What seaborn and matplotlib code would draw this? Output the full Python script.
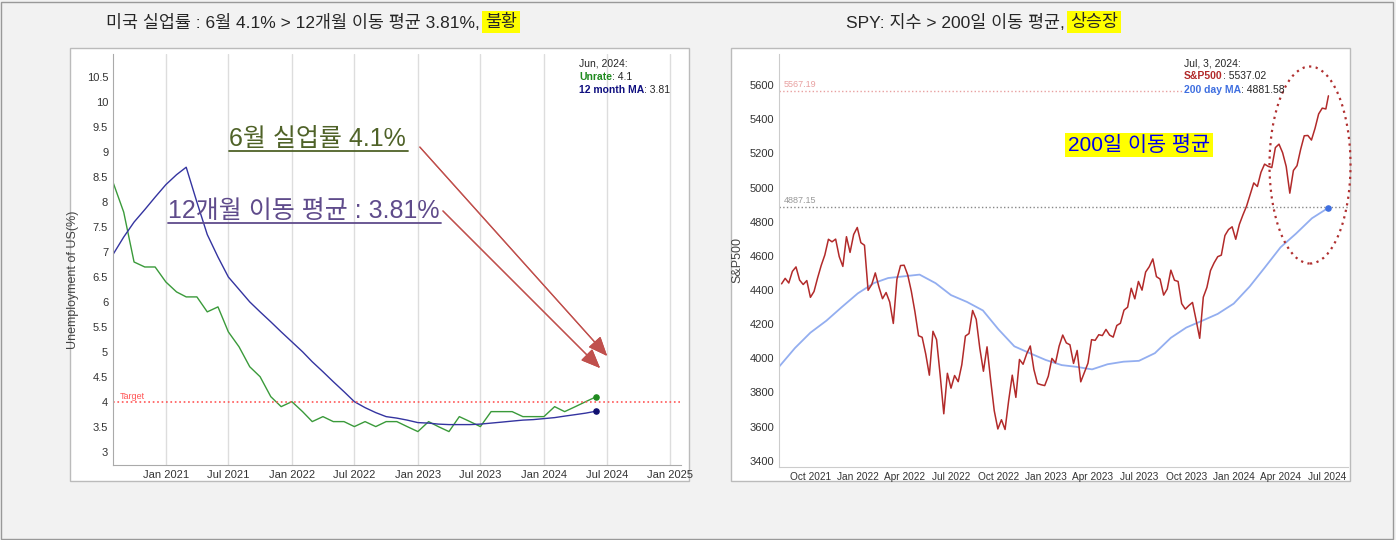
import pandas as pd
import seaborn as sns
import numpy as np
import matplotlib.pyplot as plt
import matplotlib.dates as mdates
from matplotlib.patches import Rectangle, Ellipse
from matplotlib.lines import Line2D

sns.set_style('white')
plt.rcParams['font.family'] = ['Liberation Sans', 'Noto Sans CJK KR', 'DejaVu Sans']

# unemployment, monthly Aug 2020 - Jun 2024
unrate = [8.4, 7.8, 6.8, 6.7, 6.7, 6.4, 6.2, 6.1, 6.1, 5.8, 5.9, 5.4, 5.1, 4.7, 4.5, 4.1, 3.9,
          4.0, 3.8, 3.6, 3.7, 3.6, 3.6, 3.5, 3.6, 3.5, 3.6, 3.6, 3.5,
          3.4, 3.6, 3.5, 3.4, 3.7, 3.6, 3.5, 3.8, 3.8, 3.8, 3.7, 3.7,
          3.7, 3.9, 3.8, 3.9, 4.0, 4.1]
ma12 = [6.95, 7.3, 7.6, 7.85, 8.1, 8.35, 8.55, 8.7, 8.0, 7.35, 6.9, 6.5, 6.25, 6.0, 5.8, 5.6, 5.4,
        5.2, 5.0, 4.8, 4.6, 4.4, 4.2, 4.0, 3.88, 3.78, 3.7, 3.67, 3.63,
        3.58, 3.57, 3.55, 3.54, 3.54, 3.54, 3.55, 3.57, 3.59, 3.61, 3.63, 3.64,
        3.66, 3.68, 3.71, 3.74, 3.77, 3.81]
months = pd.date_range('2020-08-01', periods=len(unrate), freq='MS')

# S&P 500 weekly closes, Aug 2021 - Jul 2024
spx = [4436, 4468, 4441, 4509, 4535, 4458, 4432, 4455, 4357, 4391, 4471, 4544, 4605, 4697, 4682,
       4698, 4595, 4538, 4712, 4620, 4725, 4766,
       4677, 4662, 4398, 4431, 4500, 4418, 4349, 4385, 4329, 4204, 4463, 4543, 4545, 4488, 4392,
       4272, 4132, 4123, 4024, 3901, 4158, 4109, 3901, 3675, 3912, 3825, 3899, 3863, 3962, 4130,
       4145, 4280, 4228, 4058, 3924, 4067, 3873, 3693, 3586, 3640, 3583, 3752, 3901, 3771, 3993,
       3965, 4026, 4072, 3934, 3852, 3845, 3840,
       3895, 3999, 3973, 4071, 4136, 4090, 4079, 3970, 4046, 3862, 3917, 3971, 4109, 4105, 4138,
       4133, 4169, 4136, 4124, 4192, 4205, 4282, 4299, 4410, 4348, 4450, 4399, 4505, 4536, 4582,
       4478, 4464, 4370, 4406, 4516, 4457, 4450, 4320, 4288, 4309, 4327, 4224, 4117, 4358, 4415,
       4514, 4559, 4595, 4604, 4719, 4754, 4770,
       4697, 4784, 4840, 4891, 4958, 5027, 5006, 5089, 5137, 5124, 5117, 5234, 5254, 5204, 5123,
       4967, 5100, 5128, 5223, 5303, 5305, 5278, 5347, 5431, 5465, 5460, 5537.02]
weeks = list(pd.date_range('2021-08-06', periods=len(spx) - 1, freq='7D')) + [pd.Timestamp('2024-07-03')]
ma200 = [3950, 4060, 4150, 4220, 4300, 4380, 4440, 4470, 4480, 4490, 4440, 4370, 4330, 4280,
         4170, 4070, 4030, 3990, 3960, 3950, 3935, 3965, 3980, 3985, 4030, 4120, 4180, 4220,
         4260, 4320, 4420, 4530, 4650, 4730, 4820, 4881.58]
ma_dates = list(pd.date_range('2021-08-01', periods=len(ma200) - 1, freq='MS')) + [pd.Timestamp('2024-07-03')]

df_u = pd.DataFrame({'date': months, 'unrate': unrate, 'ma': ma12})
df_s = pd.DataFrame({'date': weeks, 'spx': spx})
df_m = pd.DataFrame({'date': ma_dates, 'ma': ma200})

fig = plt.figure(figsize=(13.96, 5.4), dpi=100)
fig.patch.set_facecolor('#f2f2f2')
fig.patches.append(Rectangle((0.001, 0.002), 0.997, 0.995, transform=fig.transFigure,
                             fill=False, ec='#999999', lw=1, zorder=-20))
for x0 in (70, 731):
    fig.patches.append(Rectangle((x0 / 1396, (540 - 481) / 540), 619 / 1396, 433 / 540,
                                 transform=fig.transFigure, fc='white', ec='#bbbbbb', lw=1, zorder=-10))

def px(x, y):
    return (x / 1396, (540 - y) / 540)

renderer = fig.canvas.get_renderer()

def after(t, txt, **kw):
    # put txt right after text t
    bb = t.get_window_extent(renderer)
    return fig.text(bb.x1 / 1396, t.get_position()[1], txt, va='center', **kw)

# titles
t = fig.text(*px(106, 22), '미국 실업률 : 6월 4.1% > 12개월 이동 평균 3.81%,', va='center', fontsize=12.5)
bb = t.get_window_extent(renderer)
fig.text((bb.x1 + 5) / 1396, t.get_position()[1], '불황', va='center', fontsize=12.5,
         bbox=dict(fc='#ffff00', ec='none', pad=2))
t = fig.text(*px(846, 22), 'SPY: 지수 > 200일 이동 평균,', va='center', fontsize=12.5)
bb = t.get_window_extent(renderer)
fig.text((bb.x1 + 5) / 1396, t.get_position()[1], '상승장', va='center', fontsize=12.5,
         bbox=dict(fc='#ffff00', ec='none', pad=2))

# left chart
ax1 = fig.add_axes([113 / 1396, 75 / 540, 568 / 1396, 411 / 540])
ax1.set_facecolor('none')
sns.lineplot(data=df_u, x='date', y='unrate', ax=ax1, color='#3a9a3a', lw=1)
sns.lineplot(data=df_u, x='date', y='ma', ax=ax1, color='#3434a0', lw=1)
ax1.scatter([months[-1]], [unrate[-1]], color='#1f8a1f', s=14, zorder=5)
ax1.scatter([months[-1]], [ma12[-1]], color='#101070', s=14, zorder=5)
ax1.axhline(4, color='#ff5555', ls=':', lw=1.2)
ax1.text(pd.Timestamp('2020-08-20'), 4.05, 'Target', color='#ff5555', fontsize=6.5)
ax1.set_ylim(2.73, 10.97)
ax1.set_xlim(pd.Timestamp('2020-08-01'), pd.Timestamp('2025-02-01'))
ax1.set_yticks(np.arange(3, 10.6, 0.5))
ax1.set_yticklabels([f'{v:g}' for v in np.arange(3, 10.6, 0.5)])
ax1.xaxis.set_major_locator(mdates.MonthLocator(bymonth=[1, 7]))
ax1.xaxis.set_major_formatter(mdates.DateFormatter('%b %Y'))
ax1.grid(axis='x', color='#dddddd', lw=1)
ax1.set_xlabel('')
ax1.set_ylabel('Unemployment of US(%)', fontsize=9, color='#444444')
ax1.yaxis.set_label_coords(-0.06, 0.45)
ax1.tick_params(labelsize=8, colors='#333333', length=0)
for s in ('top', 'right'):
    ax1.spines[s].set_visible(False)
for s in ('left', 'bottom'):
    ax1.spines[s].set_color('#aaaaaa')

fig.text(*px(579, 64), 'Jun, 2024:', fontsize=7.5, va='center')
t = fig.text(*px(579, 77), 'Unrate', fontsize=7.5, va='center', color='#1f8a1f', weight='bold')
after(t, ': 4.1', fontsize=7.5)
t = fig.text(*px(579, 90), '12 month MA', fontsize=7.5, va='center', color='#101080', weight='bold')
after(t, ': 3.81', fontsize=7.5)

fig.text(*px(229, 139), '6월 실업률 4.1%', fontsize=18, color='#4f6228', va='center')
fig.lines.append(Line2D([229 / 1396, 408 / 1396], [(540 - 151) / 540] * 2, transform=fig.transFigure,
                        color='#4f6228', lw=1.3))
fig.text(*px(168, 211), '12개월 이동 평균 : 3.81%', fontsize=18, color='#5f4b8b', va='center')
fig.lines.append(Line2D([168 / 1396, 441 / 1396], [(540 - 223) / 540] * 2, transform=fig.transFigure,
                        color='#5f4b8b', lw=1.3))
for (x0, y0), (x1, y1) in [((418, 145), (609, 358)), ((441, 209), (602, 370))]:
    fig.add_artist(plt.annotate('', xy=(x1, 540 - y1), xytext=(x0, 540 - y0), xycoords='figure pixels',
                                textcoords='figure pixels',
                                arrowprops=dict(arrowstyle='-|>,head_length=1.2,head_width=0.5',
                                                color='#c0504d', lw=0.9)))

# right chart
ax2 = fig.add_axes([779 / 1396, 73.3 / 540, 569 / 1396, 412.7 / 540])
ax2.set_facecolor('none')
sns.lineplot(data=df_m, x='date', y='ma', ax=ax2, color='#93aef0', lw=1.3)
sns.lineplot(data=df_s, x='date', y='spx', ax=ax2, color='#b22a2a', lw=1.1)
ax2.scatter([ma_dates[-1]], [ma200[-1]], color='#3f6fe0', s=14, zorder=5)
ax2.axhline(5567.19, xmax=0.71, color='#e8a0a0', ls=':', lw=1)
ax2.axhline(4887.15, color='#888888', ls=':', lw=1)
ax2.text(pd.Timestamp('2021-08-10'), 5590, '5567.19', color='#e8a0a0', fontsize=6.5)
ax2.text(pd.Timestamp('2021-08-10'), 4910, '4887.15', color='#999999', fontsize=6.5)
ax2.set_ylim(3365, 5782)
ax2.set_xlim(pd.Timestamp('2021-08-01'), pd.Timestamp('2024-08-10'))
ax2.set_yticks(range(3400, 5601, 200))
ax2.xaxis.set_major_locator(mdates.MonthLocator(bymonth=[1, 4, 7, 10]))
ax2.xaxis.set_major_formatter(mdates.DateFormatter('%b %Y'))
ax2.set_xlabel('')
ax2.set_ylabel('S&P500', fontsize=9, color='#444444')
ax2.tick_params(labelsize=8, colors='#333333', length=0)
ax2.tick_params(axis='x', labelsize=7.3)
for s in ('top', 'right'):
    ax2.spines[s].set_visible(False)
ax2.spines['left'].set_color('#cccccc')
ax2.spines['bottom'].set_color('#cccccc')

fig.text(*px(1184, 63), 'Jul, 3, 2024:', fontsize=7.5, va='center')
t = fig.text(*px(1184, 76), 'S&P500', fontsize=7.5, va='center', color='#b22a2a', weight='bold')
after(t, ': 5537.02', fontsize=7.5)
t = fig.text(*px(1184, 90), '200 day MA', fontsize=7.5, va='center', color='#3f6fe0', weight='bold')
after(t, ': 4881.58', fontsize=7.5)
fig.text(*px(1068, 145), '200일 이동 평균', fontsize=15, color='#0000ee', va='center',
         bbox=dict(fc='#ffff00', ec='none', pad=2))
fig.patches.append(Ellipse(px(1310, 165), 81 / 1396, 197 / 540, transform=fig.transFigure,
                           fill=False, ec='#b03030', ls=(0, (1, 2)), lw=1.6))

fig.savefig('out.png', dpi=100, facecolor=fig.get_facecolor())
